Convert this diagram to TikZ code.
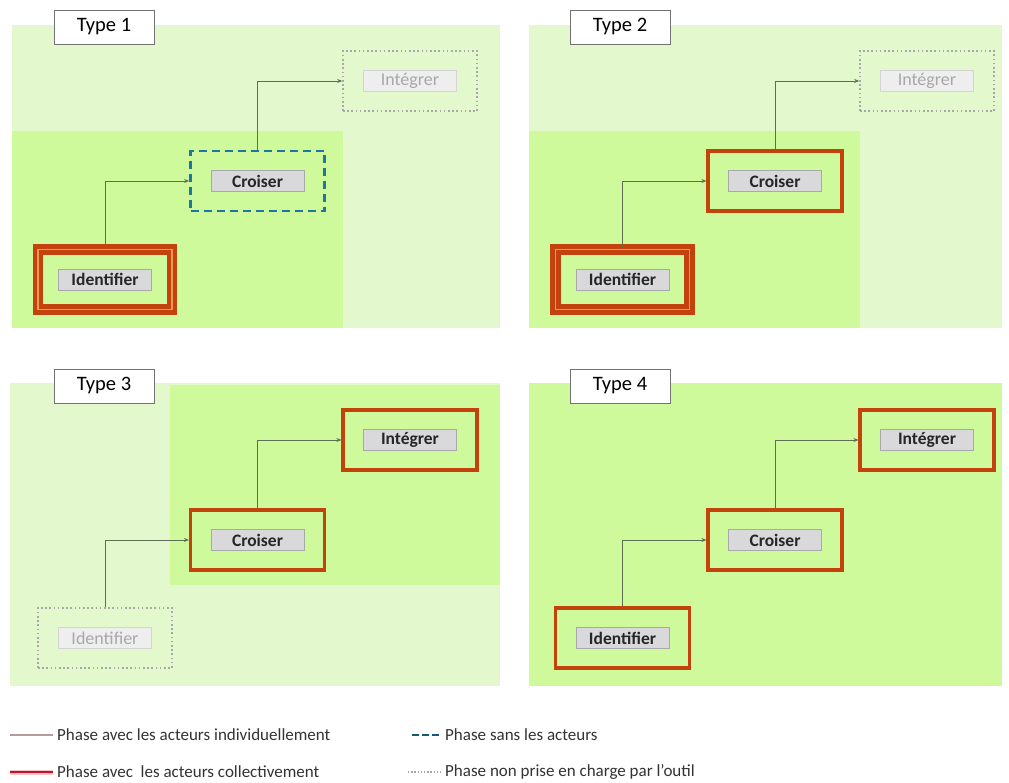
\documentclass[tikz,border=0pt]{standalone}
\usepackage{fontspec}
\setmainfont{Carlito}
\usetikzlibrary{arrows.meta}
\definecolor{bglight}{HTML}{E4F8CE}
\definecolor{bgdark}{HTML}{CEFA9C}
\definecolor{phred}{HTML}{C4420C}
\definecolor{phpeach}{HTML}{EE9A55}
\definecolor{phblue}{HTML}{1F76A2}
\definecolor{phgray}{HTML}{A8A8A8}
\definecolor{lblfill}{HTML}{D9D9DB}
\definecolor{lblline}{HTML}{A9A9AB}
\definecolor{conn}{HTML}{5E6E52}
\definecolor{legind}{HTML}{B59C9C}
\definecolor{legcol}{HTML}{C0142C}
\tikzset{
  box/.style={rectangle, minimum width=134pt, minimum height=60pt, inner sep=0pt},
  indiv/.style={box, draw=phred, line width=4.4pt, double=phpeach, double distance=1.4pt},
  collect/.style={box, draw=phred, line width=3.2pt},
  nopart/.style={box, draw=phblue, line width=2.6pt, dash pattern=on 8pt off 5pt},
  notool/.style={box, draw=phgray, line width=1.6pt, dash pattern=on 1.6pt off 2.6pt},
  lbl/.style={rectangle, fill=lblfill, draw=lblline, line width=0.6pt, minimum width=93pt, minimum height=21pt, inner sep=0pt, font=\fontsize{17.5}{20}\selectfont\bfseries, text=black!85},
  glbl/.style={rectangle, fill=lblfill!45, draw=lblline!50, line width=0.6pt, minimum width=93pt, minimum height=21pt, inner sep=0pt, font=\fontsize{18}{20}\selectfont, text=phgray},
  typelbl/.style={rectangle, fill=white, draw=black!55, line width=0.8pt, minimum width=100pt, minimum height=34pt, inner sep=0pt, font=\fontsize{20.5}{23}\selectfont},
  conn/.style={draw=conn, line width=0.9pt, -{Stealth[length=5pt,width=4pt]}},
  legtxt/.style={anchor=west, inner sep=0pt, font=\fontsize{17}{20}\selectfont, text=black!80}
}
\begin{document}
\begin{tikzpicture}[x=1pt,y=-1pt]
\useasboundingbox (0,0) rectangle (1009,783);
\fill[white] (0,0) rectangle (1009,783);
% backgrounds
\fill[bglight] (12,25) rectangle (500,328);
\fill[bgdark] (12,131) rectangle (343,328);
\fill[bglight] (529,25) rectangle (1002,328);
\fill[bgdark] (529,131) rectangle (860,328);
\fill[bglight] (10,383) rectangle (500,686);
\fill[bgdark] (170,385) rectangle (500,585);
\fill[bgdark] (529,383) rectangle (1002,686);
% type labels
\node[typelbl] (t1) at (104,27) {Type 1};
\node[typelbl] (t2) at (620,27) {Type 2};
\node[typelbl] (t3) at (104,386) {Type 3};
\node[typelbl] (t4) at (620,386) {Type 4};
% ---- Type 1
\node[indiv] (idf1) at (105,279.5) {};
\node[lbl] (idf1l) at (idf1.center) {Identifier};
\node[nopart] (cro1) at (257.5,181) {};
\node[lbl] (cro1l) at (cro1.center) {Croiser};
\node[notool] (int1) at (410,81) {};
\node[glbl] (int1l) at (int1.center) {Intégrer};
\draw[conn] (idf1.north) |- (cro1.west);
\draw[conn] (cro1.north) |- (int1.west);
% ---- Type 2
\node[indiv] (idf2) at (622.5,279.5) {};
\node[lbl] (idf2l) at (idf2.center) {Identifier};
\node[collect] (cro2) at (775,181) {};
\node[lbl] (cro2l) at (cro2.center) {Croiser};
\node[notool] (int2) at (927,81) {};
\node[glbl] (int2l) at (int2.center) {Intégrer};
\draw[conn] (idf2.north) |- (cro2.west);
\draw[conn] (cro2.north) |- (int2.west);
% ---- Type 3
\node[notool] (idf3) at (105,638) {};
\node[glbl] (idf3l) at (idf3.center) {Identifier};
\node[collect] (cro3) at (257.5,540) {};
\node[lbl] (cro3l) at (cro3.center) {Croiser};
\node[collect] (int3) at (410,440) {};
\node[lbl] (int3l) at (int3.center) {Intégrer};
\draw[conn] (idf3.north) |- (cro3.west);
\draw[conn] (cro3.north) |- (int3.west);
% ---- Type 4
\node[collect] (idf4) at (622.5,638) {};
\node[lbl] (idf4l) at (idf4.center) {Identifier};
\node[collect] (cro4) at (775,540) {};
\node[lbl] (cro4l) at (cro4.center) {Croiser};
\node[collect] (int4) at (927,440) {};
\node[lbl] (int4l) at (int4.center) {Intégrer};
\draw[conn] (idf4.north) |- (cro4.west);
\draw[conn] (cro4.north) |- (int4.west);
% ---- legend
\coordinate (la1) at (10,735); \coordinate (lb1) at (53,735);
\coordinate (la2) at (10,772); \coordinate (lb2) at (53,772);
\coordinate (la3) at (412,735); \coordinate (lb3) at (441,735);
\coordinate (la4) at (408,772); \coordinate (lb4) at (441,772);
\draw[draw=legind, line width=1.8pt] (la1) -- (lb1);
\draw[draw=legcol!25, line width=5pt] (la2) -- (lb2);
\draw[draw=legcol, line width=2.6pt] (la2) -- (lb2);
\draw[draw=phblue!75!black, line width=2pt, dash pattern=on 7pt off 3pt] (la3) -- (lb3);
\draw[draw=phgray, line width=1.4pt, dash pattern=on 1.4pt off 1.8pt] (la4) -- (lb4);
\node[legtxt] (lt1) at (57,735) {Phase avec les acteurs individuellement};
\node[legtxt] (lt2) at (57,772) {Phase avec\ \ les acteurs collectivement};
\node[legtxt] (lt3) at (445,735) {Phase sans les acteurs};
\node[legtxt] (lt4) at (445,772) {Phase non prise en charge par l’outil};
\end{tikzpicture}
\end{document}
